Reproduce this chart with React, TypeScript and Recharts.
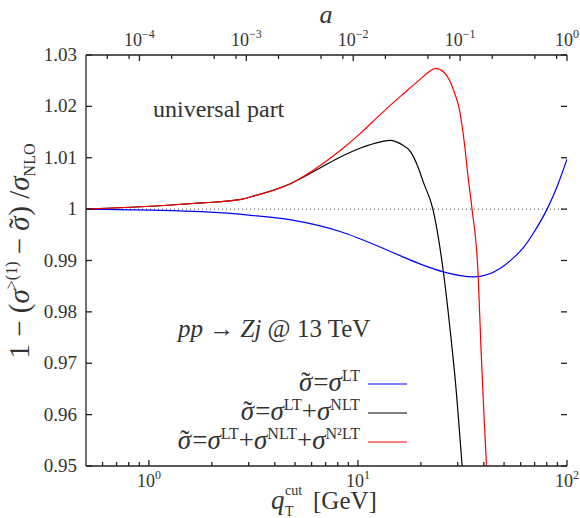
import React from 'react';
import { LineChart, Line, XAxis, YAxis, ReferenceLine, ReferenceDot } from 'recharts';

// q_T^cut values (GeV) and ratio, one pair of arrays per curve
const blueQ = [0.5, 1.03, 1.78, 3.08, 4.78, 8.28, 13.5, 16.0, 19.9, 25.6, 35.6, 48.05, 55.4, 62.1, 69.0, 80.3, 89.9, 100];
const blueVal = [1.0, 0.9998, 0.9995, 0.9988, 0.9979, 0.9956, 0.9922, 0.9909, 0.9893, 0.9878, 0.9868, 0.9885, 0.9905, 0.9926, 0.9953, 1.0, 1.0045, 1.0097];

const blackQ = [0.5, 1.28, 1.78, 2.76, 3.08, 4.78, 6.65, 8.28, 10.3, 12.85, 14.3, 16.0, 17.9, 19.29, 20.61, 22.83, 25.6, 27.7, 29.3, 31.5, 32.3];
const blackVal = [1.0, 1.0008, 1.0012, 1.0019, 1.0024, 1.005, 1.0081, 1.0102, 1.0119, 1.0131, 1.0134, 1.0127, 1.0111, 1.0084, 1.0051, 1.0, 0.9879, 0.9759, 0.9661, 0.95, 0.9443];

const redQ = [0.5, 1.28, 1.78, 2.76, 3.08, 4.78, 6.65, 8.28, 10.3, 12.85, 16.0, 17.9, 19.9, 21.5, 23.5, 25.7, 27.4, 29.0, 30.6, 32.3, 33.8, 35.13, 37.6, 38.8, 40.1, 41.2, 42.1];
const redVal = [1.0, 1.0008, 1.0012, 1.0019, 1.0024, 1.005, 1.0086, 1.0115, 1.0148, 1.0185, 1.022, 1.0237, 1.0253, 1.0265, 1.0274, 1.0267, 1.0251, 1.0226, 1.0193, 1.0128, 1.0055, 1.0, 0.987, 0.9726, 0.9597, 0.95, 0.9434];

const qTicks = [0.6, 0.7, 0.8, 0.9, 1, 2, 3, 4, 5, 6, 7, 8, 9, 10, 20, 30, 40, 50, 60, 70, 80, 90, 100];
const aTicks = [5e-5, 8e-5, 1e-4, 2e-4, 5e-4, 8e-4, 1e-3, 2e-3, 5e-3, 8e-3, 1e-2, 2e-2, 5e-2, 8e-2, 0.1, 0.2, 0.5, 0.8, 1];
const yTicks = [0.95, 0.96, 0.97, 0.98, 0.99, 1, 1.01, 1.02, 1.03];

// axis ranges; the top a-axis spans the same width as the q axis
const Q_MIN = 0.5;
const Q_MAX = 100;
const A_MIN = Math.pow(10, -4.5);
const A_MAX = 1;
const Y_MIN = 0.95;
const Y_MAX = 1.03;
const aOf = (q: number) =>
  Math.pow(10, Math.log10(A_MIN) + (Math.log10(q / Q_MIN) / Math.log10(Q_MAX / Q_MIN)) * Math.log10(A_MAX / A_MIN));

const toRows = (qs: number[], vs: number[]) => qs.map((q, i) => ({ q, a: aOf(q), v: vs[i] }));
const blueData = toRows(blueQ, blueVal);
const blackData = toRows(blackQ, blackVal);
const redData = toRows(redQ, redVal);

const FONT = "'Liberation Serif', 'DejaVu Serif', serif";
const INK = '#333';
const AXIS = '#222';
const txt = (size: number, extra: any = {}) => ({ fontFamily: FONT, fontSize: size, fill: INK, ...extra });

const expOf = (v: number) => Math.round(Math.log10(v));
const isMajor = (v: number) => Math.abs(Math.log10(v) - expOf(v)) < 1e-6;
const expText = (n: number) => (n < 0 ? '\u2212' + Math.abs(n) : String(n));

type Seg = { t: string; it?: boolean; sup?: boolean; sub?: boolean; dx?: number };
const Rich = ({ segs, small, up, down = 5 }: { segs: Seg[]; small: number; up: number; down?: number }) => {
  let shift = 0;
  return (
    <>
      {segs.map((s, i) => {
        const target = s.sup ? -up : s.sub ? down : 0;
        const dy = target - shift;
        shift = target;
        return (
          <tspan key={i} dx={s.dx} dy={dy} fontSize={s.sup || s.sub ? small : undefined} fontStyle={s.it ? 'italic' : undefined}>
            {s.t}
          </tspan>
        );
      })}
    </>
  );
};

const PowLabel = ({ x, y, n }: any) => (
  <text x={x} y={y} textAnchor="middle" style={txt(18)}>
    <Rich segs={[{ t: '10' }, { t: expText(n), sup: true }]} small={12} up={8} />
  </text>
);

const BottomTick = ({ x, y, payload }: any) =>
  isMajor(payload.value) ? <PowLabel x={x} y={y + 21} n={expOf(payload.value)} /> : <g />;

const TopTick = ({ x, y, payload }: any) =>
  isMajor(payload.value) ? <PowLabel x={x} y={y - 9} n={expOf(payload.value)} /> : <g />;

const LeftTick = ({ x, y, payload }: any) => (
  <text x={x - 9} y={y + 6} textAnchor="end" style={txt(19)}>
    {Math.abs(payload.value - 1) < 1e-9 ? '1' : payload.value.toFixed(2)}
  </text>
);

const NoLabel = () => <g />;

// inward tick mark drawn at a point placed by the axis scales
const tickMark = (dx: number, dy: number) => (p: any) => (
  <path d={`M${p.cx},${p.cy}l${dx},${dy}`} stroke={AXIS} strokeWidth={1.3} fill="none" />
);

// sigma with a tilde set above it
const sigTilde = (size: number): Seg[] => [
  { t: '\u03c3', it: true },
  { t: '\u02dc', dx: -Math.round(size * 0.42) },
];
const afterTilde = (size: number) => Math.round(size * 0.1);
const SIG: Seg = { t: '\u03c3', it: true };

const legend1: Seg[] = [...sigTilde(27), { t: '=', dx: afterTilde(27) }, SIG, { t: 'LT', sup: true }];
const legend2: Seg[] = [...legend1, { t: '+' }, SIG, { t: 'NLT', sup: true }];
const legend3: Seg[] = [...legend2, { t: '+' }, SIG, { t: 'N\u00b2LT', sup: true }];
const yLabel: Seg[] = [
  { t: '1 \u2212 (' }, SIG, { t: '>(1)', sup: true }, { t: ' \u2212 ' },
  ...sigTilde(29), { t: ') /', dx: afterTilde(29) }, SIG, { t: 'NLO', sub: true },
];

const Annotations = () => (
  <svg width={580} height={518} style={{ position: 'absolute', left: 0, top: 0, pointerEvents: 'none' }}>
    <text x={326} y={23} textAnchor="middle" style={txt(26, { fontStyle: 'italic' })}>a</text>

    <text x={271} y={509} style={txt(27, { fontStyle: 'italic' })}>q</text>
    <text x={285} y={495} style={txt(14)}>cut</text>
    <text x={285} y={516} style={txt(14)}>T</text>
    <text x={313} y={509} style={txt(25)}>[GeV]</text>

    <text transform="translate(29,251) rotate(-90)" textAnchor="middle" style={txt(29)}>
      <Rich segs={yLabel} small={16} up={12} down={6} />
    </text>

    <text x={153} y={117} style={txt(24)}>universal part</text>
    <text x={178} y={337} style={txt(25)}>
      <Rich segs={[{ t: 'pp', it: true }, { t: ' \u2192 ' }, { t: 'Zj', it: true }, { t: ' @ 13 TeV' }]} small={14} up={8} />
    </text>

    <text x={360} y={391} textAnchor="end" style={txt(27)}>
      <Rich segs={legend1} small={16} up={10} />
    </text>
    <line x1={368} x2={407} y1={384} y2={384} stroke="#0000ff" strokeWidth={1.2} />

    <text x={360} y={420} textAnchor="end" style={txt(27)}>
      <Rich segs={legend2} small={16} up={10} />
    </text>
    <line x1={368} x2={407} y1={413} y2={413} stroke="#000" strokeWidth={1.2} />

    <text x={360} y={449} textAnchor="end" style={txt(27)}>
      <Rich segs={legend3} small={16} up={10} />
    </text>
    <line x1={368} x2={407} y1={442} y2={442} stroke="#ff0000" strokeWidth={1.2} />
  </svg>
);

const axisLine = { stroke: AXIS, strokeWidth: 1.3 };

export default function App() {
  return (
    <div style={{ position: 'absolute', left: 0, top: 0, width: 580, height: 518, background: '#fff' }}>
      <LineChart width={580} height={518} margin={{ top: 25, right: 13, bottom: 22, left: 26 }}>
        <XAxis
          dataKey="q"
          type="number"
          scale="log"
          domain={[Q_MIN, Q_MAX]}
          allowDataOverflow
          ticks={qTicks}
          interval={0}
          height={30}
          tickSize={0}
          tickMargin={0}
          tickLine={false}
          tick={<BottomTick />}
          axisLine={axisLine}
        />
        <XAxis
          xAxisId="a"
          dataKey="a"
          orientation="top"
          type="number"
          scale="log"
          domain={[A_MIN, A_MAX]}
          allowDataOverflow
          ticks={aTicks}
          interval={0}
          height={30}
          tickSize={0}
          tickMargin={0}
          tickLine={false}
          tick={<TopTick />}
          axisLine={axisLine}
        />
        <YAxis
          type="number"
          domain={[Y_MIN, Y_MAX]}
          allowDataOverflow
          ticks={yTicks}
          interval={0}
          width={60}
          tickSize={0}
          tickMargin={0}
          tickLine={false}
          tick={<LeftTick />}
          axisLine={axisLine}
        />
        <YAxis
          yAxisId="right"
          orientation="right"
          type="number"
          domain={[Y_MIN, Y_MAX]}
          allowDataOverflow
          ticks={yTicks}
          interval={0}
          width={0}
          tickSize={0}
          tickMargin={0}
          tickLine={false}
          tick={<NoLabel />}
          axisLine={axisLine}
        />
        <ReferenceLine y={1} stroke="#444" strokeDasharray="1 3" strokeWidth={1} />
        {qTicks.map((v) => (
          <ReferenceDot key={'b' + v} x={v} y={Y_MIN} ifOverflow="visible" shape={tickMark(0, isMajor(v) ? -6 : -4)} />
        ))}
        {aTicks.map((v) => (
          <ReferenceDot key={'t' + v} xAxisId="a" yAxisId="right" x={v} y={Y_MAX} ifOverflow="visible" shape={tickMark(0, isMajor(v) ? 6 : 4)} />
        ))}
        {yTicks.map((v) => (
          <ReferenceDot key={'l' + v} x={Q_MIN} y={v} ifOverflow="visible" shape={tickMark(6, 0)} />
        ))}
        {yTicks.map((v) => (
          <ReferenceDot key={'r' + v} x={Q_MAX} y={v} ifOverflow="visible" shape={tickMark(-6, 0)} />
        ))}
        <Line xAxisId="a" yAxisId="right" data={blueData} dataKey="v" type="monotone" stroke="#0000ff" strokeWidth={1.2} dot={false} isAnimationActive={false} />
        <Line data={blackData} dataKey="v" type="monotone" stroke="#000000" strokeWidth={1.2} dot={false} isAnimationActive={false} />
        <Line data={redData} dataKey="v" type="monotone" stroke="#ff0000" strokeWidth={1.2} dot={false} isAnimationActive={false} />
      </LineChart>
      <Annotations />
    </div>
  );
}
